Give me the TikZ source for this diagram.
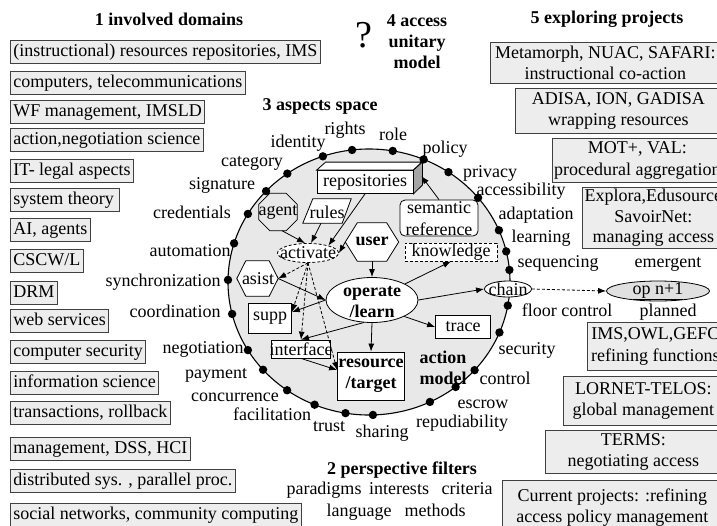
\documentclass[tikz,border=0pt]{standalone}
\usepackage{fontspec}
\setmainfont{Liberation Serif}
\usetikzlibrary{arrows.meta,shapes.geometric,calc}
\begin{document}
\begin{tikzpicture}[x=1pt,y=-1pt,
  every node/.style={font=\fontsize{18}{21.5}\selectfont, inner sep=0pt},
  lbox/.style={draw=black!75, fill=black!7, anchor=west, inner xsep=3pt, text height=12.5pt, text depth=4pt, inner ysep=3.5pt, line width=0.8pt},
  rbox/.style={draw=black!75, fill=black!7, anchor=north west, align=center, line width=0.8pt},
  hdr/.style={font=\fontsize{18}{21}\selectfont\bfseries, align=center},
  lbl/.style={text height=12.5pt, text depth=4pt},
  shp/.style={draw, fill=white, line width=0.8pt},
  ghost/.style={draw=none, fill=none},
  arr/.style={-{Latex[length=8pt,width=6pt]}, line width=0.8pt},
  darr/.style={arr, dash pattern=on 3pt off 2pt},
  bfs/.style={font=\fontsize{18}{21}\selectfont\bfseries, align=center}
]
\useasboundingbox (0,0) rectangle (717,525);

% ---------- headers ----------
\node[hdr] (h1) at (169,19) {1 involved domains};
\node[hdr] (h5) at (607,19) {5 exploring projects};
\node (q) at (364,35) {\fontsize{38}{38}\selectfont ?};
\node[hdr] (h4) at (417,42) {4 access\\unitary\\model};
\node[hdr] (h3) at (320,106) {3 aspects space};
\node[hdr] (h2) at (402,470) {2 perspective filters};

% ---------- left column ----------
\node[lbox] (l1) at (10,52) {(instructional) resources repositories, IMS};
\node[lbox] (l2) at (10,83) {computers, telecommunications};
\node[lbox] (l3) at (10,112) {WF management, IMSLD};
\node[lbox] (l4) at (10,140) {action,negotiation science};
\node[lbox] (l5) at (10,171) {IT- legal aspects};
\node[lbox] (l6) at (10,200) {system theory\,};
\node[lbox] (l7) at (10,230) {AI, agents};
\node[lbox] (l8) at (10,261) {CSCW/L};
\node[lbox] (l9) at (10,293) {DRM};
\node[lbox] (l10) at (10,321) {web services};
\node[lbox] (l11) at (10,352) {computer security};
\node[lbox] (l12) at (10,383) {information science};
\node[lbox] (l13) at (10,413) {transactions, rollback};
\node[lbox] (l14) at (10,449) {management, DSS, HCI};
\node[lbox] (l15) at (10,481) {distributed sys. , parallel proc.};
\node[lbox] (l16) at (10,515) {social networks, community computing};

% ---------- right column ----------
\node[rbox, minimum width=230pt, minimum height=41pt] (r1) at (490,42) {Metamorph, NUAC, SAFARI:\\instructional co-action};
\node[rbox, minimum width=206pt, minimum height=45pt] (r2) at (515,88) {ADISA, ION, GADISA\\wrapping resources};
\node[rbox, minimum width=170pt, minimum height=44pt] (r3) at (552,138) {MOT+, VAL:\\procedural aggregation};
\node[rbox, minimum width=142pt, minimum height=61pt, font=\fontsize{18}{20.5}\selectfont] (r4) at (582,187) {Explora,Edusource\\SavoirNet:\\managing access};
\node[rbox, minimum width=136pt, minimum height=48pt] (r5) at (587,322) {IMS,OWL,GEFC\\refining functions};
\node[rbox, minimum width=160pt, minimum height=49pt] (r6) at (563,376) {LORNET-TELOS:\\global management};
\node[rbox, minimum width=176pt, minimum height=43pt] (r7) at (545,430) {TERMS:\\negotiating access};
\node[rbox, minimum width=220pt, minimum height=54pt] (r8) at (502,480) {Current projects: :refining\\access policy management};

% ---------- aspects space ----------
\node[ellipse, draw, fill=black!9, line width=1.1pt, minimum width=282pt, minimum height=266pt] (space) at (369,282) {};
\foreach \t in {109.1,96.9,80.3,67.2,55.7,39.3,22.9,13.3,5.2,-10.2,-22.3,-41.5,-52.1,-64.4,-88.4,-99.6,-112.7,-125.5,-138.7,-149.2,-166.1,179.1,163.1,149.2,136.9,125.4}
  \fill ({369+141*cos(\t)},{282-133*sin(\t)}) circle[radius=4.2pt];

\node[lbl] (a1) at (298,143) {identity};
\node[lbl] (a2) at (345,130) {rights};
\node[lbl] (a3) at (393,136) {role};
\node[lbl] (a4) at (445,149) {policy};
\node[lbl] (a5) at (490,173) {privacy};
\node[lbl] (a6) at (521,191) {accessibility};
\node[lbl] (a7) at (536,215) {adaptation};
\node[lbl] (a8) at (541,238) {learning};
\node[lbl] (a9) at (558,263) {sequencing};
\node[lbl] (a10) at (567,312) {floor control};
\node[lbl] (a11) at (527,350) {security};
\node[lbl] (a12) at (505,380) {control};
\node[lbl] (a13) at (483,404) {escrow};
\node[lbl] (a14) at (462,423) {repudiability};
\node[lbl] (a15) at (382,433) {sharing};
\node[lbl] (a16) at (329,427) {trust};
\node[lbl] (a17) at (272,416) {facilitation};
\node[lbl] (a18) at (235,397) {concurrence};
\node[lbl] (a19) at (216,374) {payment};
\node[lbl] (a20) at (203,349) {negotiation};
\node[lbl] (a21) at (175,313) {coordination};
\node[lbl] (a22) at (163,282) {synchronization};
\node[lbl] (a23) at (190,252) {automation};
\node[lbl] (a24) at (192,214) {credentials};
\node[lbl] (a25) at (222,185) {signature};
\node[lbl] (a26) at (252,162) {category};

\node[lbl] (em) at (668,263) {emergent};
\node[lbl] (pl) at (668,312) {planned};

\node[lbl] (f1) at (324,490) {paradigms};
\node[lbl] (f2) at (399,490) {interests};
\node[lbl] (f3) at (467,490) {criteria};
\node[lbl] (f4) at (359,512) {language};
\node[lbl] (f5) at (435,512) {methods};

\node[bfs] (am) at (443,368) {action\\model};

% repositories (3D box)
\node[shp, minimum width=96pt, minimum height=23pt] (repo) at (365,182) {repositories};
\draw[fill=white, line width=0.8pt] (repo.north west) -- ++(9,-8) -- ++(96,0) -- (repo.north east) -- cycle;
\draw[fill=black!35, line width=0.8pt] (repo.north east) -- ++(9,-8) -- ++(0,23) -- (repo.south east) -- cycle;

% semantic reference
\node[shp, rounded corners=5pt, minimum width=78pt, minimum height=36pt] (sem) at (439,218) {};
\node[align=center, font=\fontsize{18}{22}\selectfont] (semt) at (439,219) {semantic\\reference};

% agent (octagon)
\node[ghost, minimum width=38pt, minimum height=37pt] (agent) at (278,212) {};
\draw[line width=0.8pt] ([xshift=11pt]agent.north west) -- ([xshift=-11pt]agent.north east) -- ([yshift=-11pt]agent.north east) -- ([yshift=11pt]agent.south east) -- ([xshift=-11pt]agent.south east) -- ([xshift=11pt]agent.south west) -- ([yshift=11pt]agent.south west) -- ([yshift=-11pt]agent.north west) -- cycle;
\node (agentt) at (278,212) {agent};

% rules (parallelogram)
\node[ghost, minimum width=48pt, minimum height=24pt] (rules) at (327,211) {};
\draw[fill=white, line width=0.8pt] (rules.south west) -- ([xshift=-9pt]rules.south east) -- (rules.north east) -- ([xshift=10pt]rules.north west) -- cycle;
\node (rulest) at (327,212) {rules};

% user (hexagon)
\node[ghost, minimum width=53pt, minimum height=38pt] (user) at (372,242) {};
\draw[fill=white, line width=0.8pt] (user.west) -- ([xshift=12pt]user.north west) -- ([xshift=-12pt]user.north east) -- (user.east) -- ([xshift=-12pt]user.south east) -- ([xshift=12pt]user.south west) -- cycle;
\node[bfs] (usert) at (372,241) {user};

% asist (hexagon)
\node[ghost, minimum width=41pt, minimum height=35pt] (asist) at (257.5,278.5) {};
\draw[fill=white, line width=0.8pt] (asist.west) -- ([xshift=9pt]asist.north west) -- ([xshift=-9pt]asist.north east) -- (asist.east) -- ([xshift=-9pt]asist.south east) -- ([xshift=9pt]asist.south west) -- cycle;
\node (asistt) at (258,279) {asist};

% activate
\node[shp, ellipse, dash pattern=on 3pt off 2pt, minimum width=61pt, minimum height=19pt] (act) at (308,253) {};
\node (actt) at (308,253) {activate};

% operate / learn
\node[shp, ellipse, minimum width=92pt, minimum height=45pt] (op) at (372,300) {};
\node[bfs] (opt) at (372,302) {operate\\/learn};

\node[shp, minimum width=43pt, minimum height=30pt] (supp) at (270,318) {supp};
\node[shp, minimum width=59pt, minimum height=18pt, inner xsep=-2pt] (iface) at (301,349) {interface};
\node[shp, bfs, minimum width=67pt, minimum height=48pt] (res) at (371,376) {resource\\/target};
\node[shp, minimum width=55pt, minimum height=23pt] (trace) at (463,327) {trace};
\node[shp, dash pattern=on 3pt off 2pt, minimum width=92pt, minimum height=18pt] (know) at (451,252) {knowledge};

% chain and op n+1
\node[shp, ellipse, minimum width=47pt, minimum height=16pt] (chain) at (508,289) {};
\node (chaint) at (508,289) {chain};
\node[shp, ellipse, fill=black!12, minimum width=103pt, minimum height=20pt] (opn) at (658,291) {};
\node (opnt) at (658,291) {\underline{op n+1}};

% ---------- connectors ----------
\draw[arr] ([xshift=4pt]agent.south) -- ([xshift=-3pt]act.north);
\draw[arr] ([xshift=-6pt]rules.south) -- ([xshift=3pt]act.north);
\draw[arr] (repo.south) -- (act.20);
\draw[arr] (user.west) -- (act.east);
\draw[arr] (user.south) -- (op.north);
\draw[darr] (act.south) -- (asist.east);
\draw[darr] (act.south) -- (supp.15);
\draw[darr] (act.south) -- (iface.north);
\draw[darr] (act.south) -- (res.170);
\draw[arr] (asist.east) -- (op.west);
\draw[arr] (op.west) -- (supp.15);
\draw[arr] (op.250) -- (iface.north);
\draw[arr] (iface.south) -- (res.170);
\draw[arr] (op.south) -- (res.north);
\draw[arr] (op.-27) -- (trace.west);
\draw[arr] (op.26) -- (know.south);
\draw[arr] (op.east) -- (chain.west);
\draw[arr] (sem.north) -- ([shift={(8,-6)}]repo.east);
\draw[darr] (chain.east) -- (opn.west);
\end{tikzpicture}
\end{document}
